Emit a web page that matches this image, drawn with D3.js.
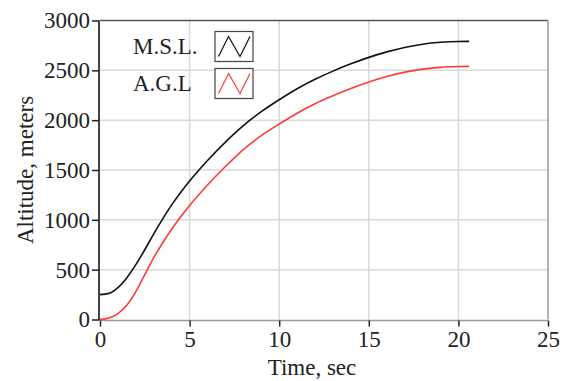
<!DOCTYPE html>
<html>
<head>
<meta charset="utf-8">
<script src="https://cdn.jsdelivr.net/npm/d3@7"></script>
<style>
html,body{margin:0;padding:0;background:#fff;}
svg{display:block;}
text{font-family:"Liberation Serif","Times New Roman",serif;fill:#222;}
</style>
</head>
<body>
<svg id="chart" width="563" height="381"></svg>
<script>
const timeSec = [0,0.5,1,1.5,2,2.5,3,3.5,4,4.5,5,5.5,6,7,8,9,10,11,12,13,14,15,16,17,18,19,20,20.6];
const mslAlt = [250,262,320,420,550,700,860,1010,1150,1275,1390,1495,1595,1780,1945,2085,2205,2315,2410,2492,2565,2630,2685,2730,2762,2781,2790,2791];
const aglAlt = [0,15,58,145,280,450,620,770,905,1030,1145,1250,1350,1535,1705,1845,1960,2070,2165,2245,2318,2383,2438,2482,2512,2530,2538,2540];
const xTicks = [0,5,10,15,20,25];
const yTicks = [0,500,1000,1500,2000,2500,3000];
const seriesNames = ["M.S.L.","A.G.L"];
const seriesColors = ["#111111","#ff3b3b"];

const svg = d3.select("#chart");
const x = d3.scaleLinear().domain([0,25]).range([100,548]);
const y = d3.scaleLinear().domain([0,3000]).range([319.5,20.5]);
const serif = '"Liberation Serif","Times New Roman",serif';
const fs = 23;

// gridlines
svg.append("g").selectAll("line").data(xTicks.slice(1,-1)).join("line")
  .attr("x1",d=>x(d)).attr("x2",d=>x(d)).attr("y1",y(0)).attr("y2",y(3000))
  .attr("stroke","#d9d9d9").attr("stroke-width",1.5);
svg.append("g").selectAll("line").data(yTicks.slice(1,-1)).join("line")
  .attr("x1",x(0)).attr("x2",x(25)).attr("y1",d=>y(d)).attr("y2",d=>y(d))
  .attr("stroke","#d9d9d9").attr("stroke-width",1.5);

// frame: top and right
svg.append("line").attr("x1",x(0)).attr("x2",x(25)).attr("y1",y(3000)).attr("y2",y(3000))
  .attr("stroke","#555").attr("stroke-width",1.5);
svg.append("line").attr("x1",x(25)).attr("x2",x(25)).attr("y1",y(3000)).attr("y2",y(0))
  .attr("stroke","#999").attr("stroke-width",1.5);

// axes
const xAxis = d3.axisBottom(x).tickValues(xTicks).tickSize(6).tickPadding(4).tickFormat(d3.format("d"));
const gx = svg.append("g").attr("transform",`translate(0,${y(0)+1})`).call(xAxis)
  .attr("font-family",serif).attr("font-size",fs);
gx.select(".domain").attr("stroke","#999").attr("stroke-width",1.5).attr("d",`M${x(0)},0H${x(25)}`);
gx.selectAll(".tick line").attr("stroke","#222").attr("stroke-width",1.5);
gx.selectAll(".tick text").attr("fill","#222").style("font-size",fs+"px");

const yAxis = d3.axisLeft(y).tickValues(yTicks).tickSize(7).tickPadding(2).tickFormat(d3.format("d"));
const gy = svg.append("g").attr("transform",`translate(${x(0)-1},0)`).call(yAxis)
  .attr("font-family",serif).attr("font-size",fs);
gy.select(".domain").attr("stroke","#444").attr("stroke-width",2).attr("d",`M0,${y(3000)}V${y(0)+1}`);
gy.selectAll(".tick line").attr("stroke","#222").attr("stroke-width",1.5);
gy.selectAll(".tick text").attr("fill","#222").style("font-size",fs+"px");

// axis titles
svg.append("text").attr("x",312).attr("y",375).attr("text-anchor","middle")
  .style("font-size",fs+"px").text("Time, sec");
svg.append("text").attr("transform","translate(33,170) rotate(-90)").attr("text-anchor","middle")
  .style("font-size",fs+"px").text("Altitude, meters");

// lines
const line = d3.line().x((d,i)=>x(timeSec[i])).y(d=>y(d)).curve(d3.curveMonotoneX);
[mslAlt, aglAlt].forEach((s,k)=>{
  svg.append("path").datum(s).attr("d",line).attr("fill","none")
    .attr("stroke",seriesColors[k]).attr("stroke-width",1.6);
});

// legend
const leg = svg.append("g");
seriesNames.forEach((name,k)=>{
  const top = 31.5 + k*37;
  leg.append("text").attr("x",133).attr("y",top+22).style("font-size",fs+"px").text(name);
  leg.append("rect").attr("x",215).attr("y",top).attr("width",38).attr("height",30)
    .attr("fill","#fff").attr("stroke","#444").attr("stroke-width",1.2);
  const pts = [[218.5,top+25],[228.5,top+5],[240,top+25],[250,top+5]];
  leg.append("path").attr("d",d3.line()(pts)).attr("fill","none")
    .attr("stroke",seriesColors[k]).attr("stroke-width",1.2);
});
</script>
</body>
</html>
